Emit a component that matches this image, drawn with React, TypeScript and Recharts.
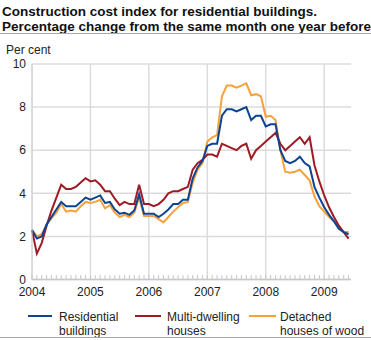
import { LineChart, Line, XAxis, YAxis, CartesianGrid, ReferenceLine } from 'recharts'

// Jan 2004 - Jun 2009, one value per month
const residential = [
  2.3, 1.9, 2.0, 2.55, 2.9, 3.25, 3.6, 3.4, 3.4, 3.4,
  3.6, 3.8, 3.7, 3.8, 3.9, 3.55, 3.6, 3.25, 3.05, 3.1,
  3.0, 3.2, 3.95, 3.05, 3.05, 3.05, 2.9, 3.05, 3.25, 3.5,
  3.5, 3.7, 3.7, 4.7, 5.2, 5.5, 6.2, 6.3, 6.3, 7.6,
  7.9, 7.9, 7.8, 7.9, 8.0, 7.4, 7.6, 7.6, 7.1, 7.2,
  7.2, 6.0, 5.5, 5.4, 5.5, 5.7, 5.4, 5.25, 4.3, 3.8,
  3.35, 3.0, 2.7, 2.35, 2.2, 2.1,
]
const multiDwelling = [
  2.3, 1.2, 1.7, 2.5, 3.2, 3.8, 4.4, 4.2, 4.2, 4.3,
  4.5, 4.7, 4.55, 4.6, 4.4, 4.1, 4.1, 3.75, 3.45, 3.6,
  3.5, 3.5, 4.4, 3.5, 3.5, 3.4, 3.5, 3.7, 4.0, 4.1,
  4.1, 4.2, 4.3, 5.1, 5.4, 5.55, 5.8, 5.8, 5.7, 6.3,
  6.2, 6.1, 6.0, 6.2, 6.3, 5.6, 6.0, 6.2, 6.4, 6.6,
  6.8, 6.3, 6.0, 6.2, 6.4, 6.6, 6.3, 6.6, 5.3, 4.55,
  3.9, 3.35, 2.9, 2.5, 2.2, 1.9,
]
const detached = [
  2.3, 2.0, 2.1, 2.55, 2.85, 3.1, 3.5, 3.15, 3.2, 3.15,
  3.4, 3.6, 3.55, 3.6, 3.7, 3.3, 3.45, 3.1, 2.9, 3.0,
  2.9, 3.1, 3.8, 2.95, 2.95, 2.95, 2.8, 2.65, 2.9, 3.15,
  3.35, 3.55, 3.6, 4.5, 5.1, 5.4, 6.4, 6.6, 6.7, 8.5,
  9.0, 9.0, 8.9, 9.0, 9.1, 8.55, 8.6, 8.5, 7.55, 7.6,
  7.4, 6.0, 5.0, 4.95, 5.0, 5.1, 4.85, 4.6, 3.85, 3.4,
  3.15, 2.9, 2.7, 2.4, 2.2, 2.2,
]
const years = ['2004', '2005', '2006', '2007', '2008', '2009']
const yTicks = [0, 2, 4, 6, 8, 10]

const data = residential.map((v, i) => ({
  i,
  res: v,
  multi: multiDwelling[i],
  det: detached[i],
}))
const monthTicks = data.map((d) => d.i)
const yearTicks = years.map((_, k) => k * 12)

const BLUE = '#0c4393'
const RED = '#9e1b25'
const ORANGE = '#f6a23a'
const FONT = '"Liberation Sans", Arial, sans-serif'

function MonthTick(props: any) {
  const { x, y, payload } = props
  const isYear = payload.value % 12 === 0
  return (
    <g>
      <line x1={x} x2={x} y1={y - 4.5} y2={y} stroke="#c8c8c8" strokeWidth={1} />
      {isYear && (
        <text x={x} y={y + 16} textAnchor="middle" fontSize={12} fill="#222" fontFamily={FONT}>
          {years[payload.value / 12]}
        </text>
      )}
    </g>
  )
}

const legend = [
  { color: BLUE, x1: 28, x2: 52, tx: 59, lines: ['Residential', 'buildings'] },
  { color: RED, x1: 135, x2: 161, tx: 167, lines: ['Multi-dwelling', 'houses'] },
  { color: ORANGE, x1: 249, x2: 276, tx: 280, lines: ['Detached', 'houses of wood'] },
]

export default function App() {
  return (
    <div style={{ position: 'absolute', left: 0, top: 0, width: 371, height: 340, background: '#fff', fontFamily: FONT, overflow: 'hidden' }}>
      <div style={{ position: 'absolute', left: 2, top: 4, fontSize: 13.5, fontWeight: 700, lineHeight: '15px', color: '#111', whiteSpace: 'nowrap' }}>
        <div>Construction cost index for residential buildings.</div>
        <div>Percentage change from the same month one year before</div>
      </div>
      <div style={{ position: 'absolute', left: 0, top: 33, width: 371, height: 1, background: '#a8a8a8' }} />
      <div style={{ position: 'absolute', left: 6, top: 43, fontSize: 12, lineHeight: '14px', color: '#222' }}>Per cent</div>

      <div style={{ position: 'absolute', left: 0, top: 0 }}>
        <LineChart width={371} height={340} data={data} margin={{ top: 64, right: 20, bottom: 40.5, left: 0 }}>
          <CartesianGrid vertical={false} stroke="#dcdcdc" strokeWidth={1.5} />
          {yearTicks.map((t) => (
            <ReferenceLine key={t} x={t} stroke="#dcdcdc" strokeWidth={1.5} ifOverflow="extendDomain" />
          ))}
          <XAxis
            dataKey="i"
            type="number"
            domain={[0, 65.5]}
            ticks={monthTicks}
            interval={0}
            tickSize={0}
            tickMargin={0}
            tickLine={false}
            axisLine={{ stroke: '#c8c8c8', strokeWidth: 1.5 }}
            tick={<MonthTick />}
            height={20}
          />
          <YAxis
            domain={[0, 10]}
            ticks={yTicks}
            width={32}
            tickSize={0}
            tickMargin={6}
            tickLine={false}
            axisLine={{ stroke: '#d0d0d0' }}
            tick={{ fontSize: 12, fill: '#222', fontFamily: FONT }}
          />
          <Line dataKey="det" stroke={ORANGE} strokeWidth={2} dot={false} isAnimationActive={false} />
          <Line dataKey="multi" stroke={RED} strokeWidth={2} dot={false} isAnimationActive={false} />
          <Line dataKey="res" stroke={BLUE} strokeWidth={2} dot={false} isAnimationActive={false} />
        </LineChart>
      </div>

      {legend.map((l) => (
        <div key={l.tx}>
          <div style={{ position: 'absolute', left: l.x1, top: 315, width: l.x2 - l.x1, height: 2, background: l.color }} />
          <div style={{ position: 'absolute', left: l.tx, top: 309.5, fontSize: 12, lineHeight: '14.5px', color: '#222', whiteSpace: 'nowrap' }}>
            {l.lines.map((s) => (
              <div key={s}>{s}</div>
            ))}
          </div>
        </div>
      ))}
      <div style={{ position: 'absolute', left: 0, top: 337, width: 371, height: 1, background: '#a8a8a8' }} />
    </div>
  )
}
